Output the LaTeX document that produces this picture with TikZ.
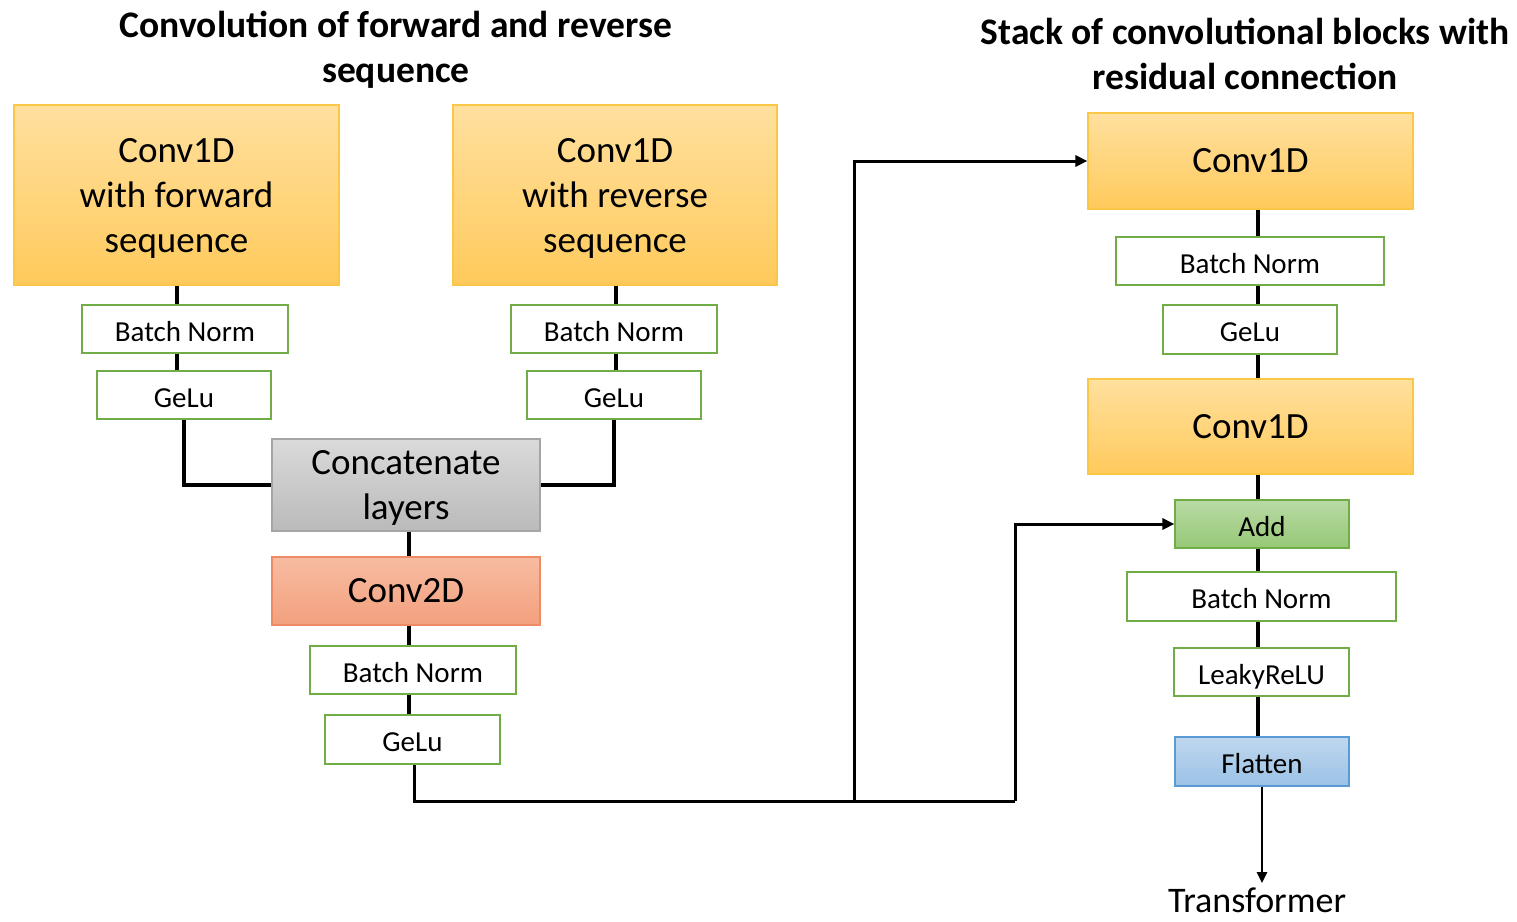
\documentclass[tikz,border=0pt]{standalone}
\usepackage{fontspec}
\setmainfont{Carlito}
\usetikzlibrary{arrows.meta}
\definecolor{yeltop}{RGB}{255,224,158}
\definecolor{yelbot}{RGB}{255,202,92}
\definecolor{yelbd}{RGB}{250,200,70}
\definecolor{gratop}{RGB}{218,218,218}
\definecolor{grabot}{RGB}{186,186,186}
\definecolor{grabd}{RGB}{165,165,165}
\definecolor{saltop}{RGB}{247,188,162}
\definecolor{salbot}{RGB}{243,160,125}
\definecolor{salbd}{RGB}{237,140,100}
\definecolor{grntop}{RGB}{185,218,165}
\definecolor{grnbot}{RGB}{150,200,118}
\definecolor{grnbd}{RGB}{112,173,71}
\definecolor{blutop}{RGB}{191,215,238}
\definecolor{blubot}{RGB}{155,194,230}
\definecolor{blubd}{RGB}{91,155,213}
\begin{document}
\begin{tikzpicture}[x=1pt,y=-1pt,
  bigtxt/.style={font=\fontsize{37}{45}\selectfont, align=center, inner sep=0pt},
  smalltxt/.style={font=\fontsize{29}{34}\selectfont, align=center, inner sep=0pt, text height=24pt, text depth=0pt},
  titletxt/.style={font=\bfseries\fontsize{37.5}{45}\selectfont, align=center, inner sep=0pt},
  yelbox/.style={bigtxt, draw=yelbd, line width=1.2pt, top color=yeltop, bottom color=yelbot},
  graybox/.style={bigtxt, draw=grabd, line width=1.2pt, top color=gratop, bottom color=grabot},
  salbox/.style={bigtxt, draw=salbd, line width=1.2pt, top color=saltop, bottom color=salbot},
  addbox/.style={smalltxt, draw=grnbd, line width=1.2pt, top color=grntop, bottom color=grnbot},
  flatbox/.style={smalltxt, draw=blubd, line width=1.2pt, top color=blutop, bottom color=blubot},
  outbox/.style={smalltxt, draw=grnbd, line width=2pt, fill=white},
  conn/.style={line width=3.8pt, black},
  route/.style={line width=3pt, black},
  tip/.style={-{Triangle[length=12pt,width=11pt]}}
]
\useasboundingbox (0,0) rectangle (1517,921);

% titles
\node[titletxt] (t1) at (396,50) {Convolution of forward and reverse\\sequence};
\node[titletxt] (t2) at (1245,54) {Stack of convolutional blocks with\\residual connection};

% left part
\node[yelbox, text depth=0pt, minimum width=325, minimum height=180] (cf) at (176.5,195) {Conv1D\\with forward\\sequence};
\node[yelbox, text depth=0pt, minimum width=324, minimum height=180] (cr) at (615,195) {Conv1D\\with reverse\\sequence};
\node[outbox, minimum width=206, minimum height=48] (bnl) at (185,329) {Batch Norm};
\node[outbox, minimum width=174, minimum height=48] (gl) at (184,395) {GeLu};
\node[outbox, minimum width=206, minimum height=48] (bnr) at (614,329) {Batch Norm};
\node[outbox, minimum width=174, minimum height=48] (gr) at (614,395) {GeLu};
\node[graybox, text depth=0pt, minimum width=268, minimum height=92] (cat) at (406,485) {Concatenate\\layers};
\node[salbox, minimum width=268, minimum height=68] (c2) at (406,591) {Conv2D};
\node[outbox, minimum width=206, minimum height=48] (bn2) at (413,670) {Batch Norm};
\node[outbox, minimum width=175, minimum height=49] (g2) at (412.5,739.5) {GeLu};

% right part
\node[yelbox, minimum width=325, minimum height=96] (r1) at (1250.5,161) {Conv1D};
\node[outbox, minimum width=268, minimum height=48] (rbn) at (1250,261) {Batch Norm};
\node[outbox, minimum width=174, minimum height=49] (rg) at (1250,329.5) {GeLu};
\node[yelbox, minimum width=325, minimum height=95] (r2) at (1250.5,426.5) {Conv1D};
\node[addbox, minimum width=174, minimum height=48] (add) at (1262,524) {Add};
\node[outbox, minimum width=269, minimum height=49] (rbn2) at (1261.5,596.5) {Batch Norm};
\node[outbox, minimum width=175, minimum height=48] (lr) at (1261.5,672) {LeakyReLU};
\node[flatbox, minimum width=174, minimum height=49] (fl) at (1262,761.5) {Flatten};
\node[font=\fontsize{36}{40}\selectfont, inner sep=0pt, anchor=base] (tr) at (1257,912) {Transformer};

% spines
\coordinate (sl) at (177,0);
\coordinate (sr) at (616,0);
\coordinate (sm) at (409,0);
\coordinate (sx) at (1258,0);
\coordinate (sf) at (1262,0);

% left column connectors
\draw[conn] (cf.south -| sl) -- (bnl.north -| sl);
\draw[conn] (bnl.south -| sl) -- (gl.north -| sl);
\draw[conn] (gl.south) |- (cat.west);
\draw[conn] (cr.south -| sr) -- (bnr.north -| sr);
\draw[conn] (bnr.south -| sr) -- (gr.north -| sr);
\draw[conn] (gr.south) |- (cat.east);
\draw[conn] (cat.south -| sm) -- (c2.north -| sm);
\draw[conn] (c2.south -| sm) -- (bn2.north -| sm);
\draw[conn] (bn2.south -| sm) -- (g2.north -| sm);

% routes
\coordinate (j1) at (854,801);
\coordinate (j2) at (1015,801);
\draw[route] ([xshift=1.5pt]g2.south) |- (j1);
\draw[route, tip] (j1) |- (r1.west);
\draw[route] (j1) -- (j2);
\draw[route, tip] (j2) |- (add.west);

% right column connectors
\draw[conn] (r1.south -| sx) -- (rbn.north -| sx);
\draw[conn] (rbn.south -| sx) -- (rg.north -| sx);
\draw[conn] (rg.south -| sx) -- (r2.north -| sx);
\draw[conn] (r2.south -| sx) -- (add.north -| sx);
\draw[conn] (add.south -| sx) -- (rbn2.north -| sx);
\draw[conn] (rbn2.south -| sx) -- (lr.north -| sx);
\draw[conn] (lr.south -| sx) -- (fl.north -| sx);
\draw[line width=2.6pt, -{Triangle[length=11pt,width=10pt]}, shorten >=4pt] (fl.south -| sf) -- (tr.north -| sf);
\end{tikzpicture}
\end{document}
